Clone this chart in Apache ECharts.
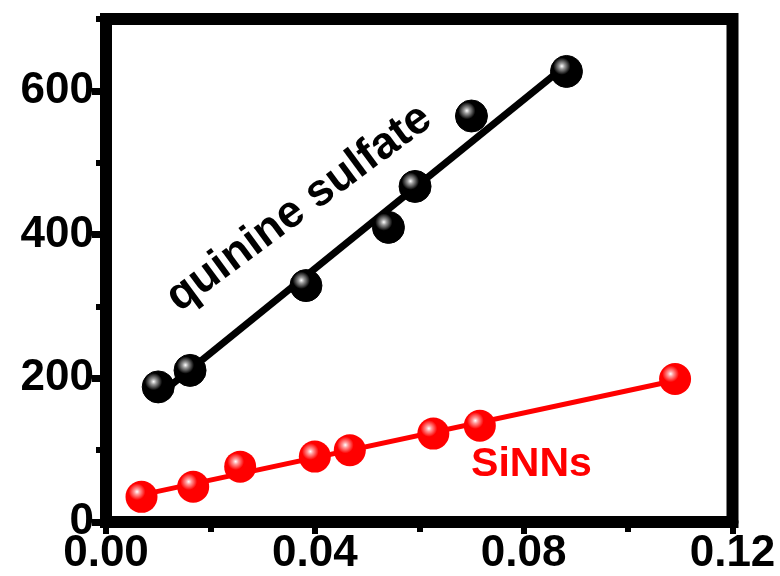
<!DOCTYPE html>
<html>
<head>
<meta charset="utf-8">
<script src="https://cdn.jsdelivr.net/npm/echarts@6/dist/echarts.min.js"></script>
<style>
  html, body { margin: 0; padding: 0; background: #fff; }
  #chart { width: 780px; height: 576px; }
</style>
</head>
<body>
<div id="chart"></div>
<script>
// Absorbance (x) vs integrated fluorescence intensity (y)
var quinineX = [0.0100, 0.0161, 0.0383, 0.0541, 0.0592, 0.0700, 0.0882];
var quinineY = [188, 211, 329, 410, 467, 565, 627];
var sinnsX = [0.0068, 0.0167, 0.0257, 0.0400, 0.0467, 0.0627, 0.0716, 0.1090];
var sinnsY = [35, 49, 77, 91, 100, 123, 134, 199];

var xTickLabels = [0, 0.04, 0.08, 0.12];
var yTickLabels = [0, 200, 400, 600];

var FONT = '"Liberation Sans", Arial, Helvetica, sans-serif';

// least-squares line over a data set, evaluated at its first and last x
function fitLine(xs, ys) {
  var n = xs.length, mx = 0, my = 0;
  for (var i = 0; i < n; i++) { mx += xs[i]; my += ys[i]; }
  mx /= n; my /= n;
  var sxy = 0, sxx = 0;
  for (var j = 0; j < n; j++) {
    sxy += (xs[j] - mx) * (ys[j] - my);
    sxx += (xs[j] - mx) * (xs[j] - mx);
  }
  var k = sxy / sxx, b = my - k * mx;
  var x0 = Math.min.apply(null, xs), x1 = Math.max.apply(null, xs);
  return [[x0, k * x0 + b], [x1, k * x1 + b]];
}

function pairs(xs, ys) {
  return xs.map(function (x, i) { return [x, ys[i]]; });
}

function ball(base, mid) {
  return {
    type: 'radial', x: 0.36, y: 0.34, r: 0.62,
    colorStops: [
      { offset: 0, color: '#ffffff' },
      { offset: 0.14, color: mid },
      { offset: 0.42, color: base },
      { offset: 1, color: base }
    ]
  };
}

var axisLine = { show: true, lineStyle: { color: '#000', width: 12 } };
var labelStyle = { color: '#000', fontSize: 44, fontWeight: 'bold', fontFamily: FONT };

var chart = echarts.init(document.getElementById('chart'), null, { renderer: 'canvas' });

chart.setOption({
  animation: false,
  backgroundColor: '#fff',
  grid: {
    left: 106, right: 47.5, top: 19, bottom: 52.5,
    show: true, borderColor: '#000', borderWidth: 12, backgroundColor: 'transparent'
  },
  xAxis: {
    type: 'value', min: 0, max: 0.12, interval: 0.04,
    axisLine: axisLine,
    axisTick: { show: true, length: 12, lineStyle: { color: '#000', width: 6 } },
    minorTick: { show: true, splitNumber: 2, length: 10, lineStyle: { color: '#000', width: 6 } },
    splitLine: { show: false },
    axisLabel: Object.assign({ margin: 10, formatter: function (v) { return v.toFixed(2); } }, labelStyle)
  },
  yAxis: [{
    type: 'value', min: 0, max: 700, interval: 100,
    axisLine: axisLine,
    axisTick: { show: true, length: 14, customValues: yTickLabels, lineStyle: { color: '#000', width: 7 } },
    splitLine: { show: false },
    axisLabel: Object.assign({
      margin: 12, customValues: yTickLabels,
      formatter: function (v) { return v % 200 === 0 && v <= 600 ? String(v) : ''; }
    }, labelStyle)
  }, {
    type: 'value', min: 0, max: 700, interval: 100, position: 'left',
    axisLine: { show: false },
    axisTick: { show: true, length: 10, lineStyle: { color: '#000', width: 6 } },
    axisLabel: { show: false },
    splitLine: { show: false }
  }],
  series: [
    {
      name: 'quinine sulfate fit', type: 'line', data: fitLine(quinineX, quinineY),
      showSymbol: false, z: 2,
      lineStyle: { color: '#000', width: 7 }
    },
    {
      name: 'SiNNs fit', type: 'line', data: fitLine(sinnsX, sinnsY),
      showSymbol: false, z: 2,
      lineStyle: { color: '#ff0000', width: 5 }
    },
    {
      name: 'quinine sulfate', type: 'scatter', data: pairs(quinineX, quinineY),
      symbolSize: 32, z: 3,
      itemStyle: { color: ball('#000000', '#9a9a9a'), borderColor: '#000', borderWidth: 1, opacity: 1 }
    },
    {
      name: 'SiNNs', type: 'scatter', data: pairs(sinnsX, sinnsY),
      symbolSize: 32, z: 3,
      itemStyle: { color: ball('#ff0000', '#ff9a9a'), opacity: 1 }
    }
  ]
});

// series name annotations, anchored in data coordinates
var qPos = chart.convertToPixel({ xAxisIndex: 0, yAxisIndex: 0 }, [0.0370, 437]);
var sPos = chart.convertToPixel({ xAxisIndex: 0, yAxisIndex: 0 }, [0.0815, 80]);
chart.setOption({
  graphic: [
    {
      type: 'text', x: qPos[0], y: qPos[1], rotation: 36.5 * Math.PI / 180, z: 10,
      style: {
        text: 'quinine sulfate', fill: '#000', font: 'bold 45px ' + FONT,
        align: 'center', verticalAlign: 'middle'
      }
    },
    {
      type: 'text', x: sPos[0], y: sPos[1], z: 10,
      style: {
        text: 'SiNNs', fill: '#ff0000', font: 'bold 41px ' + FONT,
        align: 'center', verticalAlign: 'middle'
      }
    }
  ]
});
</script>
</body>
</html>
